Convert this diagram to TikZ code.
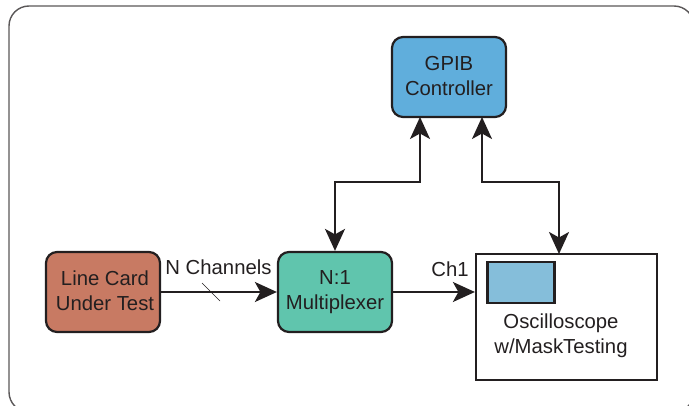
\documentclass[tikz,border=0pt]{standalone}
\usepackage{fontspec}
\setmainfont{Liberation Sans}
\usetikzlibrary{arrows.meta}
\definecolor{ink}{HTML}{231F20}
\definecolor{cardc}{HTML}{C87A63}
\definecolor{muxc}{HTML}{60C5AD}
\definecolor{gpibc}{HTML}{60AEDC}
\definecolor{screenc}{HTML}{85BEDA}
\newcommand{\liftline}[1]{\raisebox{2pt}{#1}}
\tikzset{
  blockbox/.style={draw=ink,line width=2.2pt,rounded corners=11pt,minimum width=114pt,minimum height=80pt,inner sep=0pt,align=center,text=ink,font=\fontsize{20.3}{25}\selectfont},
  plainlabel/.style={inner sep=0pt,text=ink,font=\fontsize{20.3}{25}\selectfont,align=center},
  conn/.style={draw=ink,line width=2.2pt,-{Stealth[length=22pt,width=20pt,inset=5.5pt]}},
  bothconn/.style={draw=ink,line width=2.2pt,{Stealth[length=22pt,width=20pt,inset=5.5pt]}-{Stealth[length=22pt,width=20pt,inset=5.5pt]}},
}
\begin{document}
\begin{tikzpicture}[x=1pt,y=-1pt]
\useasboundingbox (0,0) rectangle (689,406);
\begin{scope}
\clip (0,0) rectangle (689,406);
\draw[draw=ink!75,line width=1.4pt,rounded corners=20pt] (9,6) rectangle (694,412);
\end{scope}
\node[blockbox,fill=cardc] (card) at (103,292) {\hspace*{4pt}\liftline{Line Card}\\\hspace*{4pt}\liftline{Under Test}};
\node[blockbox,fill=muxc] (mux) at (335,292) {\liftline{N:1}\\\liftline{Multiplexer}};
\node[blockbox,fill=gpibc] (gpib) at (449,77) {\liftline{GPIB}\\\liftline{Controller}};
\node[draw=ink,line width=2.2pt,minimum width=181pt,minimum height=126pt,inner sep=0pt] (scope) at (566.5,317) {};
\node[draw=ink,line width=2.2pt,fill=screenc,minimum width=67pt,minimum height=41pt,inner sep=0pt] (screen) at (521,282.5) {};
\node[plainlabel] (scopetext) at (561,335.5) {Oscilloscope\\w/MaskTesting};
\node[plainlabel] (nch) at (218.5,267) {N Channels};
\node[plainlabel] (ch1) at (450,269) {Ch1};
\coordinate (gl) at (420,117);
\coordinate (gr) at (482,117);
\coordinate (st) at (559,254);
\coordinate (jl) at (420,182);
\coordinate (jr) at (482,182);
\coordinate (s1) at (202,283);
\coordinate (s2) at (220,301);
\draw[conn] (card.east) -- (mux.west);
\draw[conn] (mux.east) -- (mux.east -| scope.west);
\draw[bothconn] (gl) -- (jl) -| (mux.north);
\draw[bothconn] (gr) -- (jr) -| (st);
\draw[draw=ink,line width=0.6pt] (s1) -- (s2);
\end{tikzpicture}
\end{document}
